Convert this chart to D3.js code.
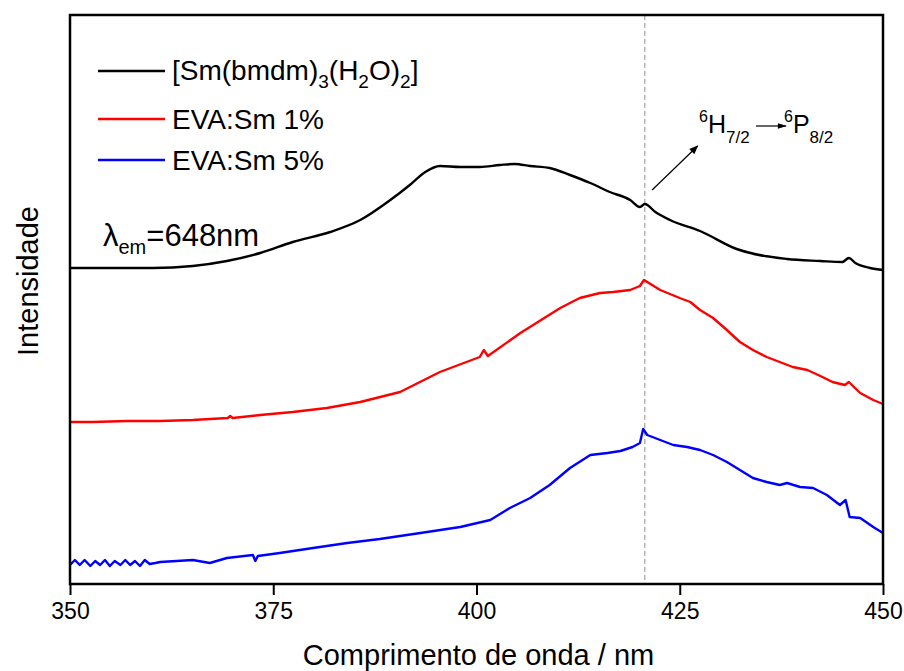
<!DOCTYPE html>
<html>
<head>
<meta charset="utf-8">
<script src="https://cdn.jsdelivr.net/npm/d3@7"></script>
<style>
  body { margin: 0; background: #fff; }
  text { font-family: "Liberation Sans", Arial, sans-serif; fill: #000; }
</style>
</head>
<body>
<div id="chart"></div>
<script>
// wavelength (nm) / intensity (a.u.)
var blackNm = [350, 356.2, 360.2, 365.1, 369.3, 373.4, 377.4, 382.0, 385.7, 389.4, 391.8, 393.7, 395.5, 398.0, 400.4, 402.9, 404.7, 406.6, 409.0, 411.5, 414.0, 416.4, 418.9, 420.1, 420.7, 422.0, 423.8, 427.5, 432.0, 438.2, 442.3, 445.0, 445.8, 446.6, 448.4, 450];
var blackI  = [316, 316, 316, 318, 323, 331, 342, 352, 364, 384, 399, 412, 418, 417, 417, 419, 420, 418, 416, 409, 401, 392, 384, 377, 380, 372, 364, 353, 335, 325, 323, 322, 326, 321, 316, 314];

var redNm = [350, 352.8, 357.0, 361.1, 365.1, 369.4, 369.7, 370.0, 373.4, 377.4, 381.6, 385.7, 390.6, 395.5, 400.4, 400.9, 401.4, 405.4, 410.3, 412.7, 415.2, 416.8, 418.9, 420.1, 420.6, 422.6, 425.0, 426.3, 427.5, 429.1, 430.8, 432.4, 434.0, 435.7, 437.3, 438.9, 440.7, 442.3, 443.8, 445.3, 445.8, 446.3, 447.2, 448.8, 450];
var redI  = [162, 162, 163, 163, 164, 166, 168, 166, 169, 172, 176, 182, 192, 212, 227, 234, 228, 251, 276, 286, 291, 292, 294, 298, 304, 294, 286, 282, 274, 266, 254, 242, 234, 227, 222, 217, 214, 208, 202, 199, 202, 198, 191, 184, 180];

var blueNm = [350, 350.6, 351.2, 351.8, 352.5, 353.1, 353.7, 354.3, 354.9, 355.5, 356.2, 356.8, 357.4, 358.0, 358.6, 359.2, 359.8, 360.5, 361.1, 365.1, 367.2, 369.3, 372.5, 372.8, 373.1, 375.8, 379.9, 384.1, 388.1, 393.1, 398.0, 401.7, 404.1, 406.6, 409.0, 411.5, 414.0, 416.1, 417.7, 419.2, 420.1, 420.5, 421.0, 422.6, 424.2, 425.9, 427.5, 429.1, 430.8, 432.4, 434.0, 435.7, 437.3, 438.2, 439.8, 441.4, 443.1, 444.7, 445.4, 445.9, 447.2, 448.8, 450];
var blueI  = [19, 24, 19, 24, 18, 23, 19, 24, 18, 23, 19, 24, 19, 23, 18, 24, 20, 21, 22, 24, 21, 26, 29, 23, 28, 31, 36, 41, 45, 51, 57, 64, 76, 86, 99, 116, 129, 131, 133, 137, 141, 155, 149, 144, 139, 137, 134, 129, 122, 114, 106, 102, 99, 101, 97, 96, 89, 79, 84, 67, 66, 57, 51];

var xTicks = [350, 375, 400, 425, 450];
var markNm = 420.7;

var legendColors = ["#000000", "#ff0000", "#0000ff"];

var W = 904, H = 671;
var margin = {top: 15, right: 21, bottom: 87, left: 70};
var width = W - margin.left - margin.right;
var height = H - margin.top - margin.bottom;

var svg = d3.select("#chart").append("svg")
    .attr("width", W)
    .attr("height", H);

var defs = svg.append("defs");
defs.append("marker")
    .attr("id", "arr")
    .attr("viewBox", "0 0 10 10")
    .attr("refX", 9).attr("refY", 5)
    .attr("markerWidth", 10).attr("markerHeight", 9)
    .attr("markerUnits", "userSpaceOnUse")
    .attr("orient", "auto")
  .append("path")
    .attr("d", "M0,1 L10,5 L0,9 z")
    .attr("fill", "#000");
defs.append("marker")
    .attr("id", "arr2")
    .attr("viewBox", "0 0 10 10")
    .attr("refX", 9).attr("refY", 5)
    .attr("markerWidth", 12).attr("markerHeight", 9)
    .attr("markerUnits", "userSpaceOnUse")
    .attr("orient", "auto")
  .append("path")
    .attr("d", "M0,2 L10,5 L0,8 z")
    .attr("fill", "#000");

var g = svg.append("g")
    .attr("transform", "translate(" + margin.left + "," + margin.top + ")");

var x = d3.scaleLinear().domain([350, 450]).range([0, width]);
var y = d3.scaleLinear().domain([0, 569]).range([height, 0]);

// dashed marker line
g.append("line")
    .attr("x1", x(markNm)).attr("x2", x(markNm))
    .attr("y1", 0).attr("y2", height)
    .attr("stroke", "#a8a8a8")
    .attr("stroke-width", 1.3)
    .attr("stroke-dasharray", "5,3");

var smooth = d3.line()
    .curve(d3.curveMonotoneX)
    .x(function(d) { return x(d[0]); })
    .y(function(d) { return y(d[1]); });
var rough = d3.line()
    .x(function(d) { return x(d[0]); })
    .y(function(d) { return y(d[1]); });

function zipS(a, b) { return a.map(function(v, i) { return [v, b[i]]; }); }

var series = [zipS(blackNm, blackI), zipS(redNm, redI), zipS(blueNm, blueI)];
series.forEach(function(s, i) {
  g.append("path")
    .datum(s)
    .attr("fill", "none")
    .attr("stroke", legendColors[i])
    .attr("stroke-width", 2.4)
    .attr("stroke-linejoin", "round")
    .attr("d", i == 0 ? smooth : rough);
});

// frame
g.append("rect")
    .attr("x", 0).attr("y", 0)
    .attr("width", width).attr("height", height)
    .attr("fill", "none")
    .attr("stroke", "#000")
    .attr("stroke-width", 2.5);

// x axis
var xAxis = g.append("g")
    .attr("transform", "translate(0," + height + ")")
    .call(d3.axisBottom(x).tickValues(xTicks).tickSize(11).tickPadding(8));
xAxis.select(".domain").remove();
xAxis.selectAll(".tick line").attr("stroke", "#000").attr("stroke-width", 2);
xAxis.selectAll(".tick text")
    .style("font-family", "'Liberation Sans', Arial, sans-serif")
    .style("font-size", "23px");

// axis titles
svg.append("text")
    .attr("x", margin.left + width / 2 + 2)
    .attr("y", 665)
    .attr("text-anchor", "middle")
    .style("font-size", "29px")
    .text("Comprimento de onda / nm");

svg.append("text")
    .attr("transform", "translate(38," + (margin.top + 266) + ") rotate(-90)")
    .attr("text-anchor", "middle")
    .style("font-size", "29px")
    .text("Intensidade");

// legend
var legY = [71, 119, 160];
legY.forEach(function(ly, i) {
  svg.append("line")
    .attr("x1", 98).attr("x2", 165)
    .attr("y1", ly).attr("y2", ly)
    .attr("stroke", legendColors[i])
    .attr("stroke-width", 2.4);
});

var t0 = svg.append("text").attr("x", 172).attr("y", 80).style("font-size", "28px");
t0.append("tspan").text("[Sm(bmdm)");
t0.append("tspan").attr("dy", 8).style("font-size", "19px").text("3");
t0.append("tspan").attr("dy", -8).text("(H");
t0.append("tspan").attr("dy", 8).style("font-size", "19px").text("2");
t0.append("tspan").attr("dy", -8).text("O)");
t0.append("tspan").attr("dy", 8).style("font-size", "19px").text("2");
t0.append("tspan").attr("dy", -8).text("]");

svg.append("text").attr("x", 172).attr("y", 129).style("font-size", "28px").text("EVA:Sm 1%");
svg.append("text").attr("x", 172).attr("y", 170).style("font-size", "28px").text("EVA:Sm 5%");

// excitation note
var lam = svg.append("text").attr("x", 103).attr("y", 246).style("font-size", "31px");
lam.append("tspan").text("λ");
lam.append("tspan").attr("dy", 8).style("font-size", "20px").text("em");
lam.append("tspan").attr("dy", -8).text("=648nm");

// transition annotation
g.append("line")
    .attr("x1", x(421.6)).attr("y1", y(394))
    .attr("x2", x(427.2)).attr("y2", y(438))
    .attr("stroke", "#000")
    .attr("stroke-width", 1.2)
    .attr("marker-end", "url(#arr)");

function sym(x0, sup, main, sub) {
  var t = svg.append("text").attr("x", x0).attr("y", 133).style("font-size", "25px");
  t.append("tspan").attr("dy", -11).style("font-size", "16px").text(sup);
  t.append("tspan").attr("dy", 11).text(main);
  t.append("tspan").attr("dy", 10).style("font-size", "17px").text(sub);
}
sym(699, "6", "H", "7/2");
sym(784, "6", "P", "8/2");

svg.append("line")
    .attr("x1", 756).attr("x2", 786)
    .attr("y1", 126).attr("y2", 126)
    .attr("stroke", "#000")
    .attr("stroke-width", 1.2)
    .attr("marker-end", "url(#arr2)");
</script>
</body>
</html>
